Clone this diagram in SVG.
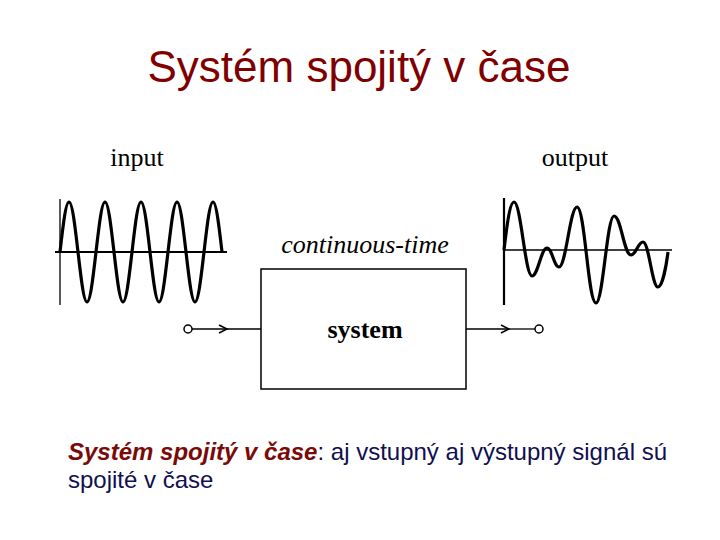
<svg xmlns="http://www.w3.org/2000/svg" width="720" height="540" viewBox="0 0 720 540">
<style>
.title{font-family:"Liberation Sans",Arial,sans-serif;font-size:44px;fill:#800000}
.lbl{font-family:"Liberation Serif","Times New Roman",serif;font-size:26px;fill:#000}
.body{font-family:"Liberation Sans",Arial,sans-serif;font-size:24px;fill:#10104f}
.em{font-weight:bold;font-style:italic;fill:#7a0a0a}
.wave{fill:none;stroke:#000;stroke-width:3.2;stroke-linejoin:round}
.ln{fill:none;stroke:#000;stroke-width:1.3}
</style>
<defs>
<marker id="chev" markerWidth="12" markerHeight="12" refX="9" refY="5" orient="auto" markerUnits="userSpaceOnUse">
<path d="M1,1 L9,5 L1,9" fill="none" stroke="#000" stroke-width="1.5"/>
</marker>
</defs>
<rect width="720" height="540" fill="#fff"/>
<text class="title" x="359" y="82" text-anchor="middle">Systém spojitý v čase</text>

<g id="input-signal">
<text class="lbl" x="137" y="166" text-anchor="middle">input</text>
<line x1="60" y1="199" x2="60" y2="305" stroke="#000" stroke-width="1.3"/>
<line x1="55" y1="252" x2="227" y2="252" stroke="#000" stroke-width="2.2"/>
<path class="wave" d="M60,252 c3.01,-26.26 5.75,-50 9,-50 s5.99,23.74 9,50 s5.75,50 9,50 s5.99,-23.74 9,-50 s5.75,-50 9,-50 s5.99,23.74 9,50 s5.75,50 9,50 s5.99,-23.74 9,-50 s5.75,-50 9,-50 s5.99,23.74 9,50 s5.75,50 9,50 s5.99,-23.74 9,-50 s5.75,-50 9,-50 s5.99,23.74 9,50 s5.75,50 9,50 s5.99,-23.74 9,-50 s5.75,-50 9,-50 s5.99,23.74 9,50"/>
</g>

<g id="output-signal">
<text class="lbl" x="575" y="166" text-anchor="middle">output</text>
<line x1="504" y1="198" x2="504" y2="305" stroke="#000" stroke-width="2.2"/>
<line x1="503" y1="250" x2="672" y2="250" stroke="#000" stroke-width="1.3"/>
<path class="wave" d="M504,250 C507,224 510,202 514,202 C521,202 525,276 532,276 C538,276 541,248 547,248 C552,248 554,267 559,267 C566,267 570,207 577,207 C585,207 588,303 596,303 C603,303 607,216 614,216 C621,216 624,255 631,255 C636,255 638,242 643,242 C649,242 652,287 658,287 C662,287 666,268 668,252"/>
</g>

<g id="system">
<text class="lbl" x="365" y="253" text-anchor="middle" font-style="italic">continuous-time</text>
<rect x="261" y="269" width="205" height="120" fill="#fff" stroke="#000" stroke-width="1.5"/>
<text class="lbl" x="365" y="338" text-anchor="middle" font-weight="bold">system</text>
</g>

<g id="connectors">
<circle cx="188" cy="329" r="4" fill="#fff" stroke="#000" stroke-width="1.5"/>
<line class="ln" x1="192" y1="329" x2="227" y2="329" marker-end="url(#chev)"/>
<line class="ln" x1="227" y1="329" x2="261" y2="329"/>
<line class="ln" x1="466" y1="329" x2="509" y2="329" marker-end="url(#chev)"/>
<line class="ln" x1="509" y1="329" x2="535" y2="329"/>
<circle cx="539" cy="329" r="4" fill="#fff" stroke="#000" stroke-width="1.5"/>
</g>

<text class="body" x="68" y="460"><tspan class="em">Systém spojitý v čase</tspan>: aj vstupný aj výstupný signál sú</text>
<text class="body" x="68" y="488">spojité v čase</text>
</svg>
